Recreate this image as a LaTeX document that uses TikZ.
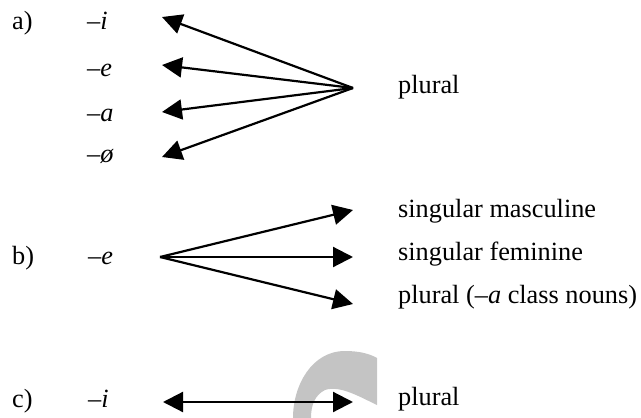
\documentclass[tikz,border=0pt]{standalone}
\usepackage{fontspec}
\setmainfont{Liberation Serif}
\usetikzlibrary{arrows.meta}
\definecolor{wmgray}{RGB}{196,196,196}
\begin{document}
\begin{tikzpicture}[x=1pt,y=-1pt,
  lbl/.style={anchor=base west, inner sep=0pt, font=\fontsize{26.3}{30}\selectfont},
  arr/.style={line width=2.2pt, -{Triangle[length=20pt,width=20pt]}},
  dblarr/.style={line width=2.2pt, {Triangle[length=20pt,width=20pt]}-{Triangle[length=20pt,width=20pt]}}]
\useasboundingbox (0,0) rectangle (641,418);

% grey mark behind the lower arrow
\fill[wmgray] (293,418) .. controls (293,385) and (312,351) .. (345,351)
  .. controls (360,351) and (370,354) .. (377,358) -- (377,405)
  .. controls (360,397) and (340,385) .. (325,390)
  .. controls (315,395) and (311,405) .. (311,418) -- cycle;

% a) plural endings
\node[lbl] (la) at (12,29) {a)};
\node[lbl] (ai) at (87,29) {\textit{–i}};
\node[lbl] (ae) at (87,76) {\textit{–e}};
\node[lbl] (aa) at (87,121) {\textit{–a}};
\node[lbl] (ao) at (87,162) {\textit{–ø}};
\node[lbl] (ap) at (398,93) {plural};
\coordinate (ahub) at (353,88);
\coordinate (at1) at (162,17);
\coordinate (at2) at (162,65);
\coordinate (at3) at (162,112);
\coordinate (at4) at (162,157);
\foreach \t in {at1,at2,at3,at4} \draw[arr] (ahub) -- (\t);

% b) the ending -e
\node[lbl] (lb) at (12,264) {b)};
\node[lbl] (be) at (88,264) {\textit{–e}};
\node[lbl] (bsm) at (398,217) {singular masculine};
\node[lbl] (bsf) at (398,260) {singular feminine};
\node[lbl] (bpl) at (398,303) {plural (\textit{–a} class nouns)};
\coordinate (bhub) at (160,257);
\coordinate (bt1) at (353,210);
\coordinate (bt2) at (353,257);
\coordinate (bt3) at (353,304);
\foreach \t in {bt1,bt2,bt3} \draw[arr] (bhub) -- (\t);

% c) the ending -i
\node[lbl] (lc) at (12,407) {c)};
\node[lbl] (ci) at (88,407) {\textit{–i}};
\node[lbl] (cp) at (398,405) {plural};
\coordinate (cl) at (163,402);
\coordinate (cr) at (353,402);
\draw[dblarr] (cl) -- (cr);
\end{tikzpicture}
\end{document}
